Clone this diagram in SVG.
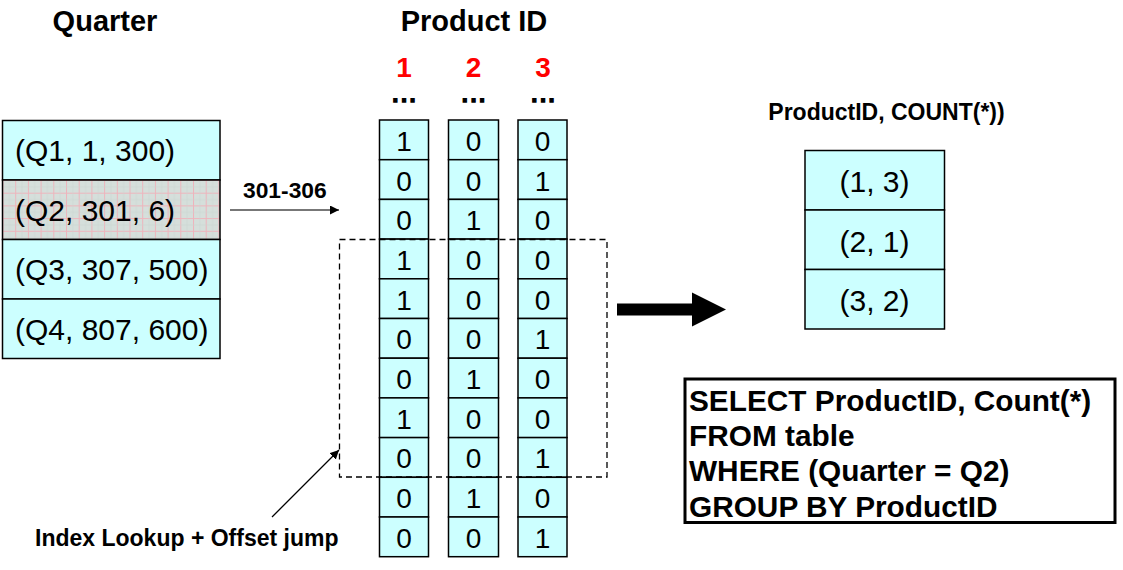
<svg xmlns="http://www.w3.org/2000/svg" width="1123" height="570" viewBox="0 0 1123 570">
<defs>
<style>
.cell{fill:#ccffff;stroke:#000;stroke-width:1.5}
.t{font-family:"Liberation Sans",Arial,sans-serif;fill:#000}
.b{font-family:"Liberation Sans",Arial,sans-serif;font-weight:bold;fill:#000}
.q{font-size:30px}
.d{font-size:28px;text-anchor:middle}
.red{fill:#ff0000;font-size:28px;text-anchor:middle}
.dots{font-size:22px;letter-spacing:2.5px;text-anchor:middle;stroke:#000;stroke-width:1.3}
</style>
<pattern id="grid" patternUnits="userSpaceOnUse" width="12.7" height="12.7" x="2.5" y="180">
<rect width="12.7" height="12.7" fill="#d5dfdb"/>
<path d="M0 0.5H12.7M0.5 0V12.7" stroke="#eeb4bc" stroke-width="1"/>
<path d="M0 6.85H12.7M6.85 0V12.7" stroke="#c9d4d0" stroke-width="0.6"/>
</pattern>
<marker id="ah" viewBox="0 0 10 10" refX="10" refY="5" markerWidth="9" markerHeight="9" markerUnits="userSpaceOnUse" orient="auto">
<path d="M0 0L10 5L0 10z" fill="#000"/>
</marker>
</defs>
<rect width="1123" height="570" fill="#fff"/>

<g id="titles">
<text class="b" x="105" y="31" font-size="29" text-anchor="middle">Quarter</text>
<text class="b" x="474" y="31" font-size="29" text-anchor="middle">Product ID</text>
<text class="b red" x="404" y="77">1</text>
<text class="b red" x="473.5" y="77">2</text>
<text class="b red" x="543" y="77">3</text>
<text class="b dots" x="405.2" y="102">...</text>
<text class="b dots" x="474.7" y="102">...</text>
<text class="b dots" x="544.2" y="102">...</text>
</g>

<g id="quarter-table">
<rect class="cell" x="2.5" y="120.5" width="217.5" height="59.5"/>
<rect x="2.5" y="180" width="217.5" height="59.5" fill="url(#grid)" stroke="#000" stroke-width="1.5"/>
<rect class="cell" x="2.5" y="239.5" width="217.5" height="59.5"/>
<rect class="cell" x="2.5" y="299" width="217.5" height="59.5"/>
<text class="t q" x="15" y="161">(Q1, 1, 300)</text>
<text class="t q" x="15" y="221">(Q2, 301, 6)</text>
<text class="t q" x="15" y="280">(Q3, 307, 500)</text>
<text class="t q" x="15" y="340">(Q4, 807, 600)</text>
</g>

<g id="col1">
<rect class="cell" x="379.5" y="120" width="49" height="39.7"/>
<rect class="cell" x="379.5" y="159.7" width="49" height="39.7"/>
<rect class="cell" x="379.5" y="199.4" width="49" height="39.7"/>
<rect class="cell" x="379.5" y="239.1" width="49" height="39.7"/>
<rect class="cell" x="379.5" y="278.8" width="49" height="39.7"/>
<rect class="cell" x="379.5" y="318.5" width="49" height="39.7"/>
<rect class="cell" x="379.5" y="358.2" width="49" height="39.7"/>
<rect class="cell" x="379.5" y="397.9" width="49" height="39.7"/>
<rect class="cell" x="379.5" y="437.6" width="49" height="39.7"/>
<rect class="cell" x="379.5" y="477.3" width="49" height="39.7"/>
<rect class="cell" x="379.5" y="517" width="49" height="39.7"/>
<g class="t d">
<text x="404" y="151">1</text><text x="404" y="191">0</text><text x="404" y="230">0</text><text x="404" y="270">1</text><text x="404" y="310">1</text><text x="404" y="349">0</text><text x="404" y="389">0</text><text x="404" y="429">1</text><text x="404" y="468">0</text><text x="404" y="508">0</text><text x="404" y="548">0</text>
</g>
</g>

<g id="col2">
<rect class="cell" x="448.5" y="120" width="50" height="39.7"/>
<rect class="cell" x="448.5" y="159.7" width="50" height="39.7"/>
<rect class="cell" x="448.5" y="199.4" width="50" height="39.7"/>
<rect class="cell" x="448.5" y="239.1" width="50" height="39.7"/>
<rect class="cell" x="448.5" y="278.8" width="50" height="39.7"/>
<rect class="cell" x="448.5" y="318.5" width="50" height="39.7"/>
<rect class="cell" x="448.5" y="358.2" width="50" height="39.7"/>
<rect class="cell" x="448.5" y="397.9" width="50" height="39.7"/>
<rect class="cell" x="448.5" y="437.6" width="50" height="39.7"/>
<rect class="cell" x="448.5" y="477.3" width="50" height="39.7"/>
<rect class="cell" x="448.5" y="517" width="50" height="39.7"/>
<g class="t d">
<text x="473.5" y="151">0</text><text x="473.5" y="191">0</text><text x="473.5" y="230">1</text><text x="473.5" y="270">0</text><text x="473.5" y="310">0</text><text x="473.5" y="349">0</text><text x="473.5" y="389">1</text><text x="473.5" y="429">0</text><text x="473.5" y="468">0</text><text x="473.5" y="508">1</text><text x="473.5" y="548">0</text>
</g>
</g>

<g id="col3">
<rect class="cell" x="518" y="120" width="49" height="39.7"/>
<rect class="cell" x="518" y="159.7" width="49" height="39.7"/>
<rect class="cell" x="518" y="199.4" width="49" height="39.7"/>
<rect class="cell" x="518" y="239.1" width="49" height="39.7"/>
<rect class="cell" x="518" y="278.8" width="49" height="39.7"/>
<rect class="cell" x="518" y="318.5" width="49" height="39.7"/>
<rect class="cell" x="518" y="358.2" width="49" height="39.7"/>
<rect class="cell" x="518" y="397.9" width="49" height="39.7"/>
<rect class="cell" x="518" y="437.6" width="49" height="39.7"/>
<rect class="cell" x="518" y="477.3" width="49" height="39.7"/>
<rect class="cell" x="518" y="517" width="49" height="39.7"/>
<g class="t d">
<text x="542.5" y="151">0</text><text x="542.5" y="191">1</text><text x="542.5" y="230">0</text><text x="542.5" y="270">0</text><text x="542.5" y="310">0</text><text x="542.5" y="349">1</text><text x="542.5" y="389">0</text><text x="542.5" y="429">0</text><text x="542.5" y="468">1</text><text x="542.5" y="508">0</text><text x="542.5" y="548">1</text>
</g>
</g>

<g id="selection">
<rect x="339.5" y="239.5" width="267.5" height="237.5" fill="none" stroke="#000" stroke-width="1.3" stroke-dasharray="6 4"/>
</g>

<g id="result-table">
<text class="b" x="886.5" y="120" font-size="23" text-anchor="middle">ProductID, COUNT(*))</text>
<rect class="cell" x="805" y="150.5" width="139.5" height="59.5"/>
<rect class="cell" x="805" y="210" width="139.5" height="59.5"/>
<rect class="cell" x="805" y="269.5" width="139.5" height="59.5"/>
<text class="t q" x="874.5" y="192" text-anchor="middle">(1, 3)</text>
<text class="t q" x="874.5" y="252" text-anchor="middle">(2, 1)</text>
<text class="t q" x="874.5" y="311" text-anchor="middle">(3, 2)</text>
</g>

<g id="sql">
<rect x="685" y="379" width="430" height="143.5" fill="#fff" stroke="#000" stroke-width="3"/>
<text class="b" x="689" y="411" font-size="29.8">SELECT ProductID, Count(*)</text>
<text class="b" x="689" y="446" font-size="29.8">FROM table</text>
<text class="b" x="689" y="481" font-size="29.8">WHERE (Quarter = Q2)</text>
<text class="b" x="689" y="517" font-size="29.8">GROUP BY ProductID</text>
</g>

<g id="labels">
<text class="b" x="243" y="198" font-size="22.8">301-306</text>
<text class="b" x="35" y="546" font-size="23">Index Lookup + Offset jump</text>
</g>

<g id="connectors">
<line x1="230" y1="210" x2="339" y2="210" stroke="#777" stroke-width="1.8" marker-end="url(#ah)"/>
<line x1="272" y1="517" x2="339" y2="450" stroke="#000" stroke-width="1.3" marker-end="url(#ah)"/>
<path d="M617 303.5H692V292.5L726 309.5L692 326.5V315.5H617z" fill="#000"/>
</g>
</svg>
